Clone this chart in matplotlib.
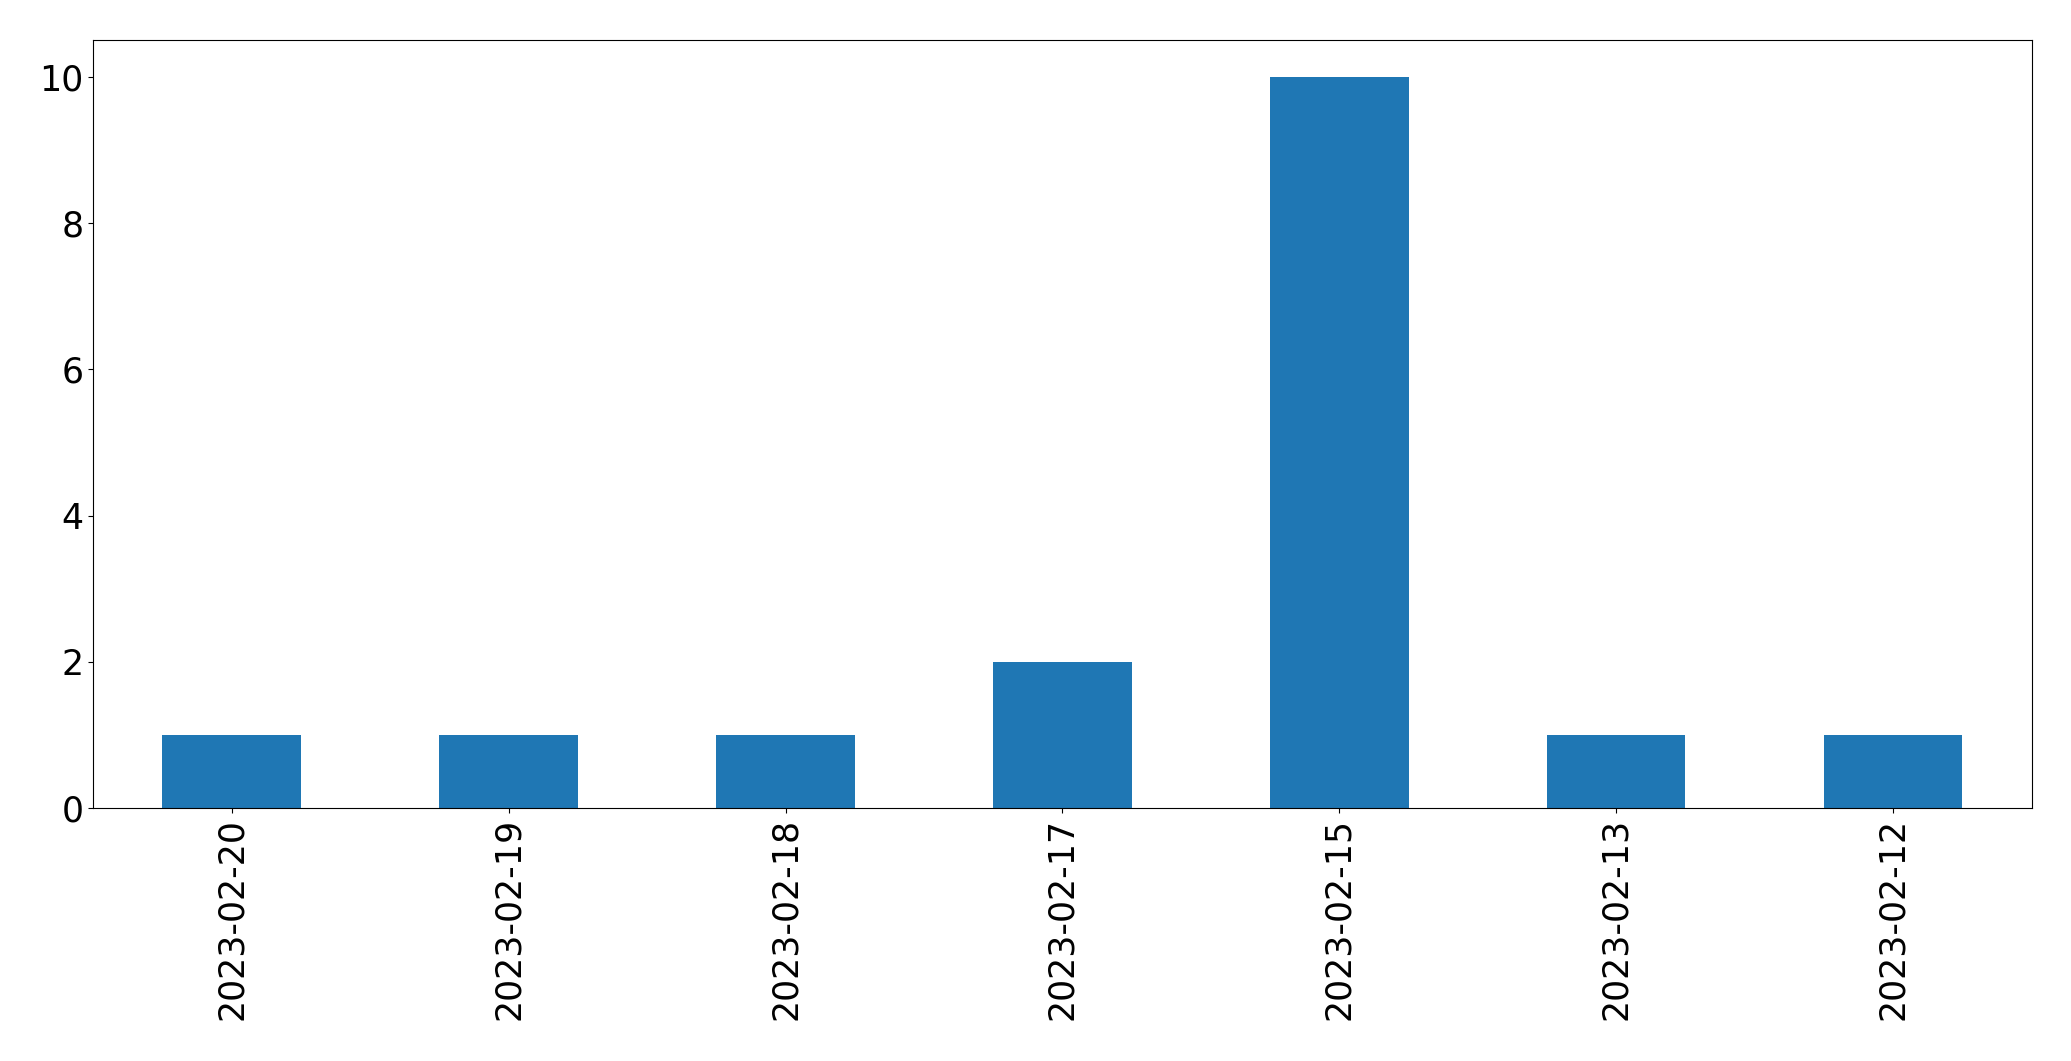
import matplotlib
matplotlib.use("Agg")
import matplotlib.pyplot as plt
import pandas as pd

# data
dates = ["2023-02-20", "2023-02-19", "2023-02-18", "2023-02-17",
         "2023-02-15", "2023-02-13", "2023-02-12"]
counts = [1, 1, 1, 2, 10, 1, 1]

plt.rcParams["font.size"] = 25

s = pd.Series(counts, index=dates)

fig, ax = plt.subplots(figsize=(20.71, 10.61), dpi=100)
s.plot(kind="bar", ax=ax, color="#1f77b4")
ax.tick_params(axis="both", labelsize=25)
fig.subplots_adjust(left=0.0450, right=0.981, bottom=0.2385, top=0.962)
fig.savefig("out.png", dpi=100)
